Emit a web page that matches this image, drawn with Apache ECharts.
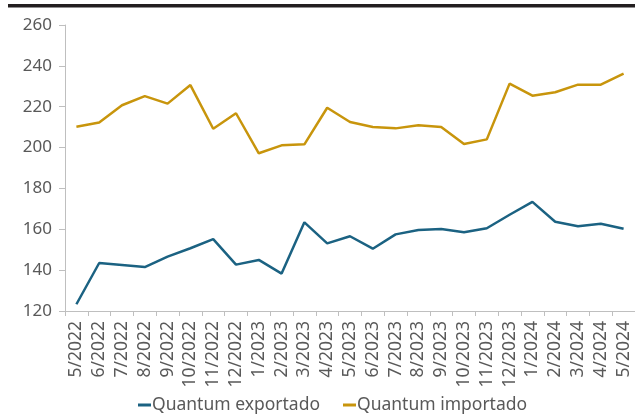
<!DOCTYPE html>
<html>
<head>
<meta charset="utf-8">
<script src="https://cdn.jsdelivr.net/npm/echarts@6/dist/echarts.min.js"></script>
<style>
  html, body { margin: 0; padding: 0; background: #fff; }
  #main { width: 635px; height: 417px; }
</style>
</head>
<body>
<div id="main"></div>
<script>
// meses (eixo x)
var categorias = ['5/2022', '6/2022', '7/2022', '8/2022', '9/2022', '10/2022', '11/2022', '12/2022',
  '1/2023', '2/2023', '3/2023', '4/2023', '5/2023', '6/2023', '7/2023', '8/2023', '9/2023',
  '10/2023', '11/2023', '12/2023', '1/2024', '2/2024', '3/2024', '4/2024', '5/2024'];
var exportado = [123.3, 143.5, 142.5, 141.5, 146.6, 150.7, 155.2, 142.7, 145.0, 138.3, 163.4,
  153.1, 156.6, 150.5, 157.5, 159.6, 160.1, 158.5, 160.5, 167.1, 173.4, 163.7, 161.5, 162.7, 160.3];
var importado = [210.2, 212.3, 220.7, 225.2, 221.5, 230.6, 209.2, 216.8, 197.2, 201.1, 201.6,
  219.5, 212.5, 210.1, 209.4, 210.9, 210.1, 201.7, 204.0, 231.3, 225.4, 227.1, 230.8, 230.8, 236.2];

var myChart = echarts.init(document.getElementById('main'));
var cinza = '#595959';
var option = {
  animation: false,
  textStyle: { fontFamily: 'Noto Sans' },
  graphic: [{
    type: 'rect',
    shape: { x: 8, y: 4, width: 627, height: 3.5 },
    style: { fill: '#231f20' }
  }],
  grid: { left: 65, top: 25, width: 576, bottom: 106 },
  legend: {
    top: 396,
    left: 138,
    padding: 0,
    itemWidth: 13,
    itemHeight: 3,
    itemGap: 23,
    icon: 'rect',
    textStyle: { color: cinza, fontSize: 17.5, padding: [0, 0, 0, -4] },
    data: ['Quantum exportado', 'Quantum importado']
  },
  xAxis: {
    type: 'category',
    data: categorias,
    boundaryGap: true,
    axisLine: { lineStyle: { color: '#bfbfbf', width: 1 } },
    axisTick: { show: true, length: 5, lineStyle: { color: '#bfbfbf' } },
    axisLabel: { rotate: 90, color: cinza, fontSize: 17.5, margin: 10, interval: 0 }
  },
  yAxis: {
    type: 'value',
    min: 120,
    max: 260,
    interval: 20,
    axisLine: { show: true, lineStyle: { color: '#bfbfbf', width: 1 } },
    axisTick: { show: true, length: 6, lineStyle: { color: '#bfbfbf' } },
    splitLine: { show: false },
    axisLabel: { color: cinza, fontSize: 17, margin: 13 }
  },
  series: [{
    name: 'Quantum exportado',
    type: 'line',
    data: exportado,
    symbol: 'none',
    lineStyle: { color: '#1b6282', width: 2.5 },
    itemStyle: { color: '#1b6282' }
  }, {
    name: 'Quantum importado',
    type: 'line',
    data: importado,
    symbol: 'none',
    lineStyle: { color: '#c8950c', width: 2.5 },
    itemStyle: { color: '#c8950c' }
  }]
};
myChart.setOption(option);
</script>
</body>
</html>
